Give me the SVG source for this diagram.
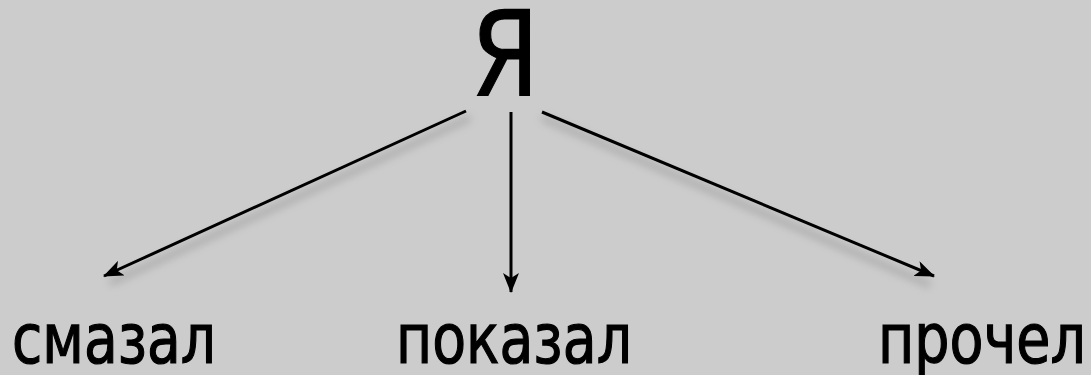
<svg xmlns="http://www.w3.org/2000/svg" width="1091" height="375" viewBox="0 0 1091 375">
<defs>
<style>
text{font-family:"DejaVu Sans","Verdana",sans-serif;fill:#000;stroke:#000;stroke-width:1.2;font-stretch:condensed}
.w{font-size:70px}
.c{stroke:#000;stroke-width:3;fill:none;marker-end:url(#ah)}
.sh{stroke:#888;stroke-width:5;fill:none;opacity:0.6;filter:url(#blur)}
</style>
<filter id="blur" x="-20%" y="-20%" width="140%" height="140%"><feGaussianBlur stdDeviation="4"/></filter>
<marker id="ah" viewBox="0 0 20 16" refX="19" refY="8" markerWidth="20" markerHeight="16" markerUnits="userSpaceOnUse" orient="auto">
<path d="M0,0 L20,8 L0,16 L5,8 Z" fill="#000"/>
</marker>
</defs>
<rect width="1091" height="375" fill="#cccccc"/>
<g id="connectors">
<path class="sh" d="M470,118 L110,283"/>
<path class="sh" d="M506,118 L506,290"/>
<path class="sh" d="M542,118 L930,285"/>
<path class="c" d="M466,111 L104,276"/>
<path class="c" d="M511,112 L511,292"/>
<path class="c" d="M542,112 L934,276"/>
</g>
<g id="node-ya"><text x="471" y="95" font-size="117" textLength="68" lengthAdjust="spacingAndGlyphs">Я</text></g>
<g id="node-smazal"><text class="w" x="12" y="363" textLength="204" lengthAdjust="spacingAndGlyphs">смазал</text></g>
<g id="node-pokazal"><text class="w" x="396" y="363" textLength="236" lengthAdjust="spacingAndGlyphs">показал</text></g>
<g id="node-prochel"><text class="w" x="878" y="363" textLength="208" lengthAdjust="spacingAndGlyphs">прочел</text></g>
</svg>
